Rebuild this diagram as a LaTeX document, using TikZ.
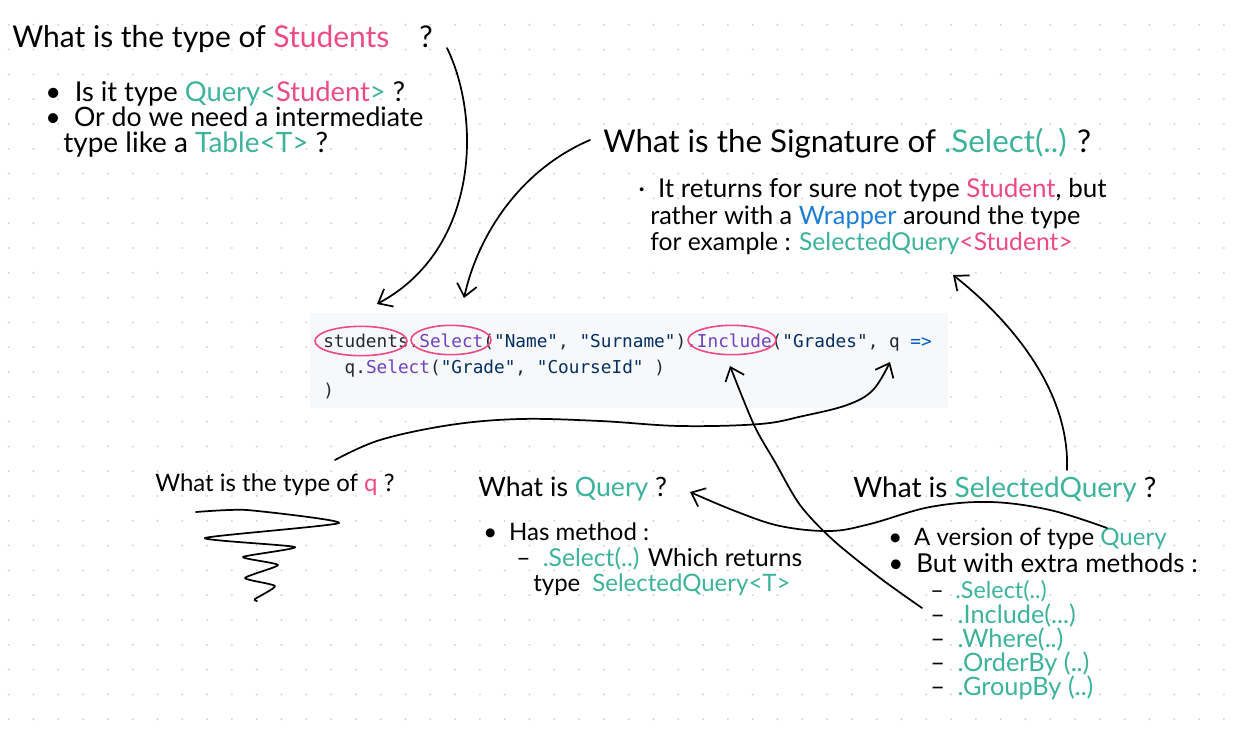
\documentclass[tikz,border=0pt]{standalone}
\usepackage{fontspec}
\setmainfont{Lato}
\setmonofont{DejaVu Sans Mono}
\usetikzlibrary{arrows.meta}
\definecolor{pinkc}{HTML}{EE4A85}
\definecolor{tealc}{HTML}{3DB39B}
\definecolor{bluec}{HTML}{1C7ED6}
\definecolor{codefg}{HTML}{24292E}
\definecolor{codekw}{HTML}{6F42C1}
\definecolor{codestr}{HTML}{032F62}
\definecolor{codeop}{HTML}{005CC5}
\definecolor{codebg}{HTML}{F6F8FA}
\definecolor{dotc}{HTML}{D2D2D2}
\newcommand{\pk}[1]{\textcolor{pinkc}{#1}}
\newcommand{\tl}[1]{\textcolor{tealc}{#1}}
\newcommand{\fs}[1]{\fontsize{#1}{#1}\selectfont}
\begin{document}
\begin{tikzpicture}[x=0.75pt,y=-0.75pt,
  txt/.style={anchor=base west, inner sep=0pt, font=\fs{18}},
  head/.style={anchor=base west, inner sep=0pt, font=\fs{20}},
  small/.style={anchor=base west, inner sep=0pt, font=\fs{19}},
  code/.style={anchor=base west, inner sep=0pt, font=\ttfamily\fs{13.3}, text=codefg},
  ring/.style={draw=pinkc, line width=1.2pt},
  arr/.style={line width=1.3pt, line cap=round, -{Straight Barb[length=9pt,width=15pt,line width=1.3pt]}},
  pen/.style={line width=1.3pt, line cap=round, line join=round}]
\useasboundingbox (0,0) rectangle (1244,728);
\fill[white] (0,0) rectangle (1244,728);
% dot grid
\foreach \i in {0,...,49}{
  \foreach \j in {1,...,29}{
    \fill[dotc] (8.7+24.8*\i,24.8*\j) circle[radius=0.8pt];
  }
}
% code block
\fill[codebg] (310,313) rectangle (948,408);
\node[code] (c1) at (323,347) {students.\textcolor{codekw}{Select}(\textcolor{codestr}{"Name"}, \textcolor{codestr}{"Surname"}).\textcolor{codekw}{Include}(\textcolor{codestr}{"Grades"}, q \textcolor{codeop}{=>}};
\node[code] (c2) at (344.4,373) {q.\textcolor{codekw}{Select}(\textcolor{codestr}{"Grade"}, \textcolor{codestr}{"CourseId"} )};
\node[code] (c3) at (323,396) {)};
\draw[ring] (361,341) ellipse [x radius=34.5pt, y radius=11pt];
\draw[ring] (451,340) ellipse [x radius=30pt, y radius=11pt];
\draw[ring] (732,340) ellipse [x radius=33pt, y radius=11pt];
% top-left
\node[head, font=\fs{22.5}] (t1) at (12,47) {What is the type of \pk{Students}\quad ?};
\node[txt, font=\fs{20.5}] (t1a) at (45,101) {•\enspace Is it type \tl{Query<}\pk{Student}\tl{>} ?};
\node[txt, font=\fs{20}] (t1b) at (45,126) {•\enspace Or do we need a intermediate};
\node[txt, font=\fs{21}] (t1c) at (63,152) {type like a \tl{Table<T>} ?};
% signature
\node[head, font=\fs{23.5}] (t2) at (603,152) {What is the Signature of \tl{.Select(..)} ?};
\node[txt, font=\fs{19.5}] (t2a) at (638,197) {·\enspace It returns for sure not type \pk{Student}, but};
\node[txt, font=\fs{19}] (t2b) at (650,224) {rather with a \textcolor{bluec}{Wrapper} around the type};
\node[txt, font=\fs{18.5}] (t2c) at (650,250) {for example : \tl{SelectedQuery}\pk{<Student>}};
% q
\node[txt] (t3) at (155,491) {What is the type of \pk{q} ?};
% Query
\node[head] (t4) at (478,496) {What is \tl{Query} ?};
\node[txt] (t4a) at (483,540) {•\enspace Has method :};
\node[txt, font=\fs{18.5}] (t4b) at (516,566) {–\enspace\tl{.Select(..)} Which returns};
\node[txt] (t4c) at (533,591) {type\enspace\tl{SelectedQuery<T>}};
% SelectedQuery
\node[head, font=\fs{21}] (t5) at (853,497) {What is \tl{SelectedQuery} ?};
\node[txt] (t5a) at (888,545) {•\enspace A version of type \tl{Query}};
\node[txt, font=\fs{19.5}] (t5b) at (888,572) {•\enspace But with extra methods :};
\node[small, font=\fs{17.5}] (m1) at (930,598) {–\enspace\tl{.Select(..)}};
\node[small] (m2) at (930,623) {–\enspace\tl{.Include(...)}};
\node[small] (m3) at (930,647) {–\enspace\tl{.Where(..)}};
\node[small] (m4) at (930,671) {–\enspace\tl{.OrderBy (..)}};
\node[small] (m5) at (930,695) {–\enspace\tl{.GroupBy (..)}};
% connector end points
\coordinate (a1s) at (447,48);
\coordinate (a1e) at (377,304);
\coordinate (a2s) at (590,140);
\coordinate (a2e) at (464,298);
\coordinate (a3s) at (1067,470);
\coordinate (a3e) at (953,275);
\coordinate (a4s) at (335,460);
\coordinate (a4e) at (890,362);
\coordinate (a5s) at (1107,528);
\coordinate (a5e) at (690,492);
\coordinate (a6s) at (922,608);
\coordinate (a6e) at (730,366);
% connectors
\draw[arr] (a1s) .. controls (482,120) and (478,250) .. (a1e);
\draw[arr] (a2s) .. controls (520,170) and (478,235) .. (a2e);
\draw[arr] (a3s) .. controls (1070,390) and (1010,320) .. (a3e);
\draw[arr] plot[smooth, tension=0.6] coordinates {(a4s) (380,440) (450,425) (520,419) (600,421) (680,426) (760,424) (803,416) (847,405) (873,390) (a4e)};
\draw[arr] plot[smooth, tension=0.6] coordinates {(a5s) (1050,510) (990,502) (930,507) (870,524) (830,531) (780,526) (735,511) (a5e)};
\draw[arr] plot[smooth, tension=0.5] coordinates {(a6s) (880,578) (833,540) (800,505) (775,462) (754,425) (a6e)};
% scribble
\draw[pen] plot[smooth, tension=0.35] coordinates {(196,512) (247,510) (339,523) (205,538) (295,547) (243,557) (278,565) (245,578) (275,586) (255,599) (257,601)};
\end{tikzpicture}
\end{document}
